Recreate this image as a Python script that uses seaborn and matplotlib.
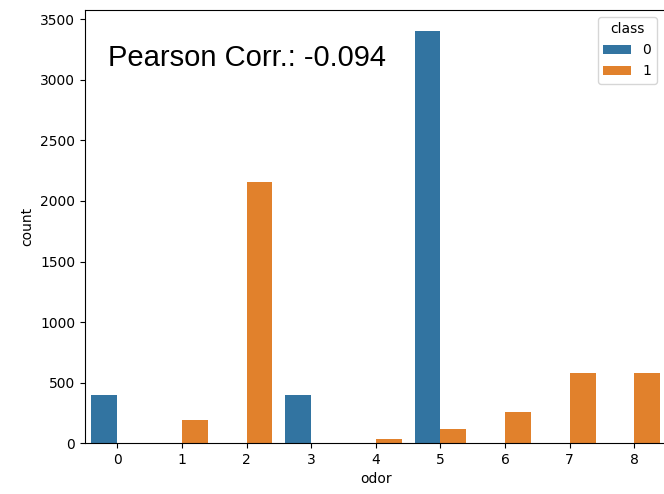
import matplotlib
matplotlib.use("Agg")
import matplotlib.pyplot as plt
import seaborn as sns
import pandas as pd

odor = [0, 1, 2, 3, 4, 5, 5, 6, 7, 8]
cls = [0, 1, 1, 0, 1, 0, 1, 1, 1, 1]
counts = [400, 192, 2160, 400, 36, 3408, 120, 256, 576, 576]

df = pd.DataFrame({"odor": odor, "class": cls, "count": counts})

fig = plt.figure(figsize=(6.64, 4.94), dpi=100)
ax = fig.add_axes([0.128, 0.103, 0.876, 0.877])
sns.barplot(data=df, x="odor", y="count", hue="class", ax=ax,
            order=list(range(9)), hue_order=[0, 1],
            palette=["#1f77b4", "#ff7f0e"], saturation=0.75)
ax.text(0.04, 0.888, "Pearson Corr.: -0.094", transform=ax.transAxes,
        fontsize=21, family="Liberation Sans", va="center", ha="left")
leg = ax.legend(title="class", loc="upper right", bbox_to_anchor=(0.995, 1.0))
fig.savefig("out.png", dpi=100)
